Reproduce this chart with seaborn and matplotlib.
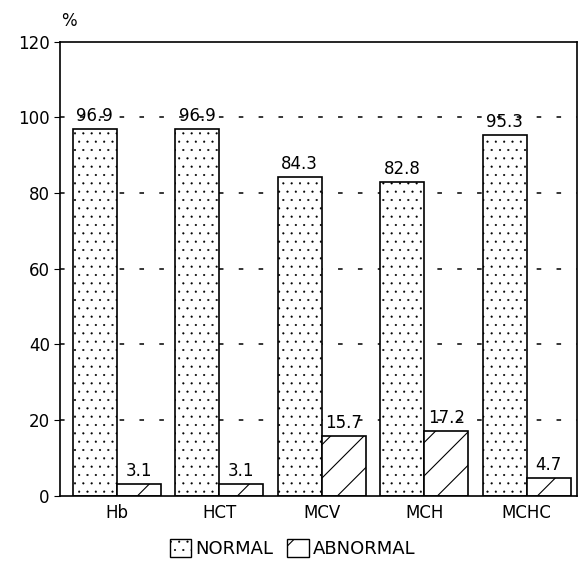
import pandas as pd
import seaborn as sns
import matplotlib.pyplot as plt
from matplotlib.patches import Patch

params = ["Hb", "HCT", "MCV", "MCH", "MCHC"]
normal = [96.9, 96.9, 84.3, 82.8, 95.3]
abnormal = [3.1, 3.1, 15.7, 17.2, 4.7]
groups = ["NORMAL", "ABNORMAL"]
yticks = [0, 20, 40, 60, 80, 100, 120]

df = pd.DataFrame({
    "param": params * 2,
    "pct": normal + abnormal,
    "group": [groups[0]] * len(params) + [groups[1]] * len(params),
})

sns.set_style("white")
plt.rcParams["font.family"] = ["DejaVu Sans"]
plt.rcParams["hatch.linewidth"] = 0.8
for key in ["text.color", "axes.labelcolor", "xtick.color", "ytick.color"]:
    plt.rcParams[key] = "black"

fig = plt.figure(figsize=(5.85, 5.64), dpi=100)
ax = fig.add_axes([0.103, 0.121, 0.883, 0.805])

for y in yticks[1:-1]:
    ax.axhline(y, color="black", lw=1.1, ls=(0, (3, 10)), zorder=0)

sns.barplot(data=df, x="param", y="pct", hue="group", order=params,
            hue_order=groups, palette=["white", "white"], edgecolor="black",
            linewidth=1.2, width=0.86, dodge=True, legend=False, ax=ax, zorder=2)

hatches = {0: "..", 1: "/"}
hatch_lw = {0: 0.3, 1: 0.8}
for i, cont in enumerate(ax.containers):
    for bar in cont:
        bar.set_hatch(hatches[i])
        bar.set_hatch_linewidth(hatch_lw[i])
    ax.bar_label(cont, labels=[f"{v:.1f}" for v in (normal if i == 0 else abnormal)],
                 padding=3, fontsize=12, color="black", zorder=3)

ax.set_ylim(0, 120)
ax.set_xlim(-0.552, 4.49)
ax.set_yticks(yticks)
ax.tick_params(axis="y", length=4, direction="out", labelsize=12, left=True)
ax.tick_params(axis="x", length=0, labelsize=12, pad=6)
ax.set_xlabel("")
ax.set_ylabel("")
for s in ax.spines.values():
    s.set_color("black")
    s.set_linewidth(1.2)
fig.text(0.117, 0.963, "%", fontsize=12, ha="center", va="center")

handles = [Patch(facecolor="white", edgecolor="black", hatch=hatches[0], label=groups[0]),
           Patch(facecolor="white", edgecolor="black", hatch=hatches[1], label=groups[1])]
leg = fig.legend(handles=handles, loc="center", bbox_to_anchor=(0.5, 0.028), ncol=2,
                 frameon=False, fontsize=13, handlelength=1.2, handleheight=1.2,
                 handletextpad=0.2, columnspacing=0.8)
for p, i in zip(leg.get_patches(), [0, 1]):
    p.set_hatch_linewidth(hatch_lw[i])

fig.savefig("out.png", dpi=100)
